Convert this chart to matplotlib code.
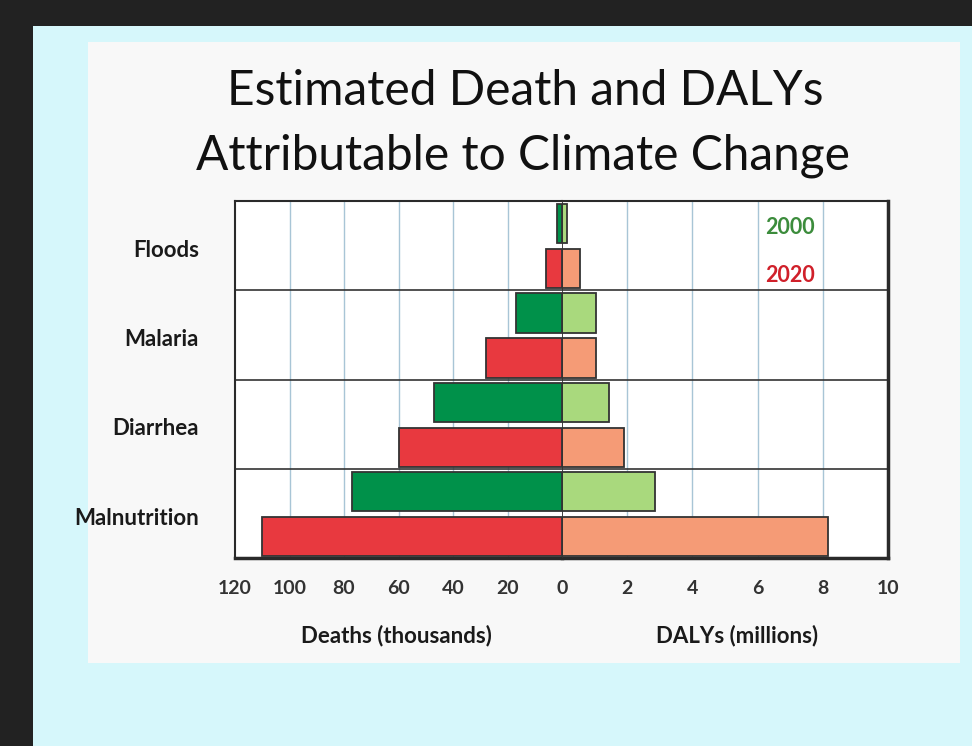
import matplotlib.pyplot as plt
from matplotlib.patches import Rectangle

categories = ["Floods", "Malaria", "Diarrhea", "Malnutrition"]
deaths_2000 = [1.7, 17, 47, 77]      # thousands
deaths_2020 = [6, 28, 60, 110]
dalys_2000 = [0.15, 1.05, 1.45, 2.85]  # millions
dalys_2020 = [0.55, 1.05, 1.9, 8.15]
left_ticks = [120, 100, 80, 60, 40, 20, 0]
right_ticks = [2, 4, 6, 8, 10]

plt.rcParams['font.family'] = ['Lato', 'DejaVu Sans']

W, H = 972, 746
fig = plt.figure(figsize=(W / 100, H / 100), dpi=100)
fig.patch.set_facecolor('#222222')

def fbox(x0, y0, x1, y1):
  # pixel box (top-left origin) -> figure fraction
  return [x0 / W, 1 - y1 / H, (x1 - x0) / W, (y1 - y0) / H]

b = fbox(33, 26, W, H)
fig.add_artist(Rectangle((b[0], b[1]), b[2], b[3], transform=fig.transFigure,
                         facecolor='#d6f7fb', edgecolor='none', zorder=-10))
b = fbox(88, 42, 960, 663)
fig.add_artist(Rectangle((b[0], b[1]), b[2], b[3], transform=fig.transFigure,
                         facecolor='#f8f8f8', edgecolor='none', zorder=-9))

axL = fig.add_axes(fbox(235, 201, 562, 558))
axR = fig.add_axes(fbox(562, 201, 888, 558))

ypos = range(len(categories))
g_y = [i + 0.255 for i in ypos]
r_y = [i + 0.76 for i in ypos]
bh = 0.44
edge = dict(edgecolor='#333333', linewidth=1.3, zorder=3)

axL.barh(g_y, deaths_2000, height=bh, color='#00914a', **edge)
axL.barh(r_y, deaths_2020, height=bh, color='#e8393f', **edge)
axR.barh(g_y, dalys_2000, height=bh, color='#a9d97d', **edge)
axR.barh(r_y, dalys_2020, height=bh, color='#f59b76', **edge)

axL.set_xlim(120, 0)
axR.set_xlim(0, 10)
for ax in (axL, axR):
  ax.set_ylim(4, 0)
  ax.set_facecolor('white')
  for y in (1, 2, 3):
    ax.axhline(y, color='#333333', lw=1.2, zorder=2)
  ax.tick_params(axis='x', length=0, pad=16, labelsize=14, labelcolor='#333333')
  for s in ax.spines.values():
    s.set_color('#2a2a2a')
    s.set_linewidth(1.5)

for x in left_ticks[1:-1]:
  axL.axvline(x, color='#a8c5d6', lw=1, zorder=1)
for x in right_ticks[:-1]:
  axR.axvline(x, color='#a8c5d6', lw=1, zorder=1)

axL.set_xticks(left_ticks)
axL.set_xticklabels([str(t) for t in left_ticks], fontweight='bold')
axR.set_xticks(right_ticks)
axR.set_xticklabels([str(t) for t in right_ticks], fontweight='bold')

axL.spines['right'].set_visible(False)
axL.spines['bottom'].set_linewidth(2.5)
axR.spines['left'].set_visible(False)
axR.spines['right'].set_linewidth(2.5)
axR.spines['bottom'].set_linewidth(2.5)
axR.axvline(0, color='#333333', lw=1.3, zorder=4)

axL.set_yticks([i + 0.53 for i in ypos])
axL.set_yticklabels(categories, fontweight='bold', fontsize=16, color='#1a1a1a')
axL.tick_params(axis='y', length=0, pad=26)
axR.set_yticks([])

axR.text(7, 0.30, "2000", color='#3c8c3c', fontsize=15.5, fontweight='bold',
         ha='center', va='center')
axR.text(7, 0.84, "2020", color='#d0202a', fontsize=15.5, fontweight='bold',
         ha='center', va='center')

fig.text(396 / W, 1 - 642 / H, "Deaths (thousands)", ha='center', va='baseline',
         fontsize=16, fontweight='bold', color='#1a1a1a')
fig.text(737 / W, 1 - 642 / H, "DALYs (millions)", ha='center', va='baseline',
         fontsize=16, fontweight='bold', color='#1a1a1a')

fig.text(525 / W, 1 - 105 / H, "Estimated Death and DALYs", ha='center', va='baseline',
         fontsize=34.5, color='#111111')
fig.text(523 / W, 1 - 170 / H, "Attributable to Climate Change", ha='center', va='baseline',
         fontsize=34.5, color='#111111')

fig.savefig('out.png', dpi=100, facecolor=fig.get_facecolor())
